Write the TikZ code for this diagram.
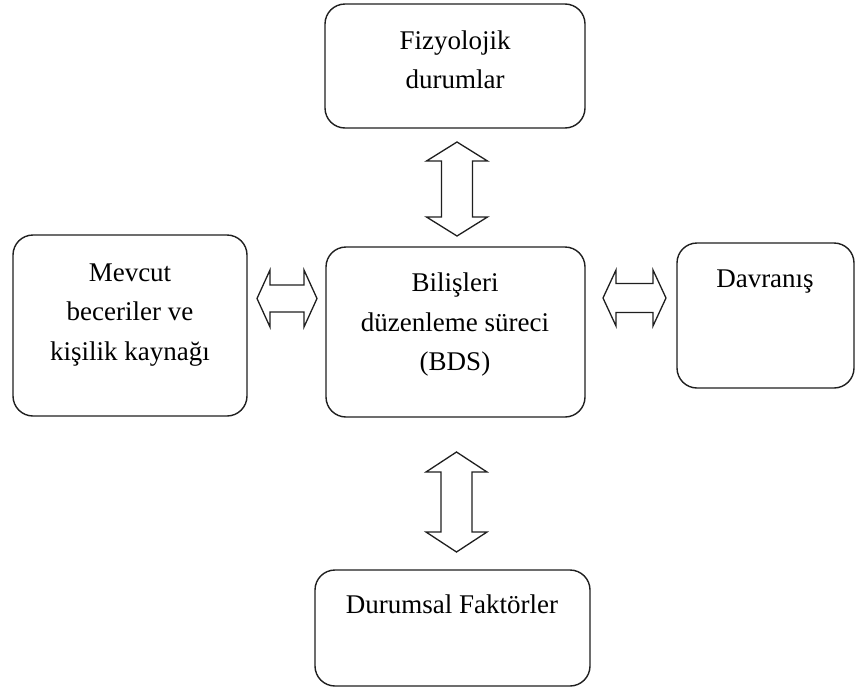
\documentclass[tikz,border=0pt]{standalone}
\usepackage{fontspec}
\setmainfont{Liberation Serif}
\begin{document}
\begin{tikzpicture}[x=1pt,y=-1pt,
  box/.style={draw=black!88, line width=1.4pt, rounded corners=20pt, inner sep=0pt},
  lbl/.style={align=center, font=\fontsize{27}{39.5}\selectfont, inner sep=0pt},
  blk/.style={draw=black!88, line width=1.3pt, line join=miter, fill=white}]
\useasboundingbox (0,0) rectangle (855,691);
% boxes
\node[box, minimum width=260, minimum height=124] (top) at (455,66) {};
\node[box, minimum width=234, minimum height=181] (left) at (130,325.5) {};
\node[box, minimum width=259, minimum height=170] (mid) at (455.5,332) {};
\node[box, minimum width=177, minimum height=145] (right) at (765.5,315.5) {};
\node[box, minimum width=275, minimum height=116] (bottom) at (452.5,628) {};
% texts
\node[lbl] (ttop) at (455,60) {Fizyolojik\\durumlar};
\node[lbl] (tleft) at (130,315) {Mevcut\\beceriler ve\\kişilik kaynağı};
\node[lbl] (tmid) at (455,325) {Bilişleri\\düzenleme süreci\\(BDS)};
\node[lbl] (tright) at (765,282) {Davranış};
\node[lbl] (tbottom) at (452,604) {Durumsal Faktörler};
% block arrows
\draw[blk, shift={(457,189)}] (0,-47) -- (30.5,-28) -- (15.5,-28) -- (15.5,28) -- (30.5,28) -- (0,47) -- (-30.5,28) -- (-15.5,28) -- (-15.5,-28) -- (-30.5,-28) -- cycle;
\draw[blk, shift={(456.5,502)}] (0,-50) -- (30.5,-30) -- (15.5,-30) -- (15.5,30) -- (30.5,30) -- (0,50) -- (-30.5,30) -- (-15.5,30) -- (-15.5,-30) -- (-30.5,-30) -- cycle;
\draw[blk, shift={(287,298.5)}] (-30,0) -- (-17,-28.5) -- (-17,-13.5) -- (17,-13.5) -- (17,-28.5) -- (30,0) -- (17,28.5) -- (17,13.5) -- (-17,13.5) -- (-17,28.5) -- cycle;
\draw[blk, shift={(634.5,298)}] (-31.5,0) -- (-18.5,-28) -- (-18.5,-14.5) -- (18.5,-14.5) -- (18.5,-28) -- (31.5,0) -- (18.5,28) -- (18.5,14.5) -- (-18.5,14.5) -- (-18.5,28) -- cycle;
\end{tikzpicture}
\end{document}
